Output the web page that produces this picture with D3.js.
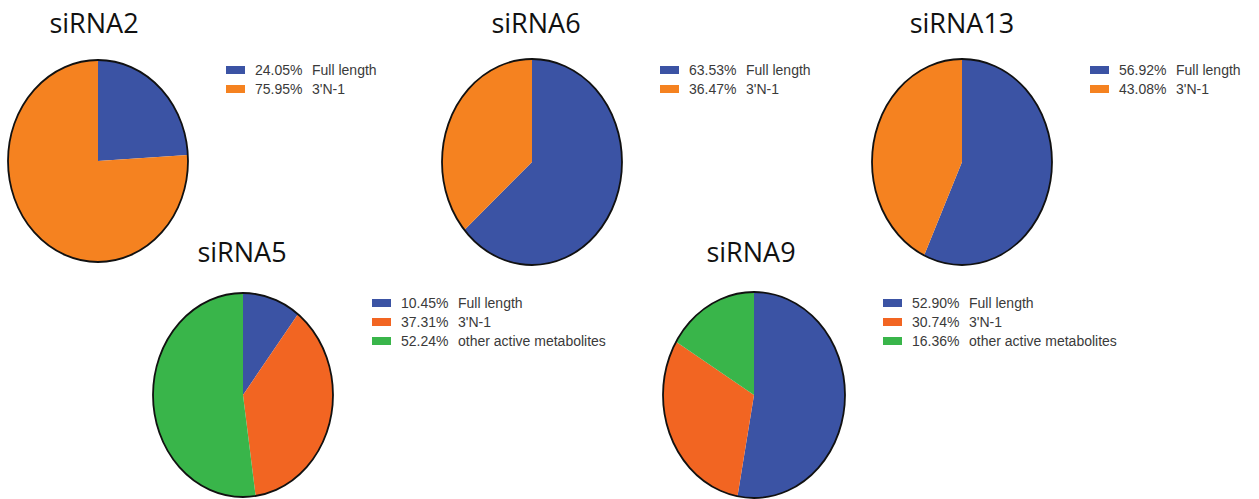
<!DOCTYPE html>
<html>
<head>
<meta charset="utf-8">
<script src="https://cdn.jsdelivr.net/npm/d3@7"></script>
<style>
  html, body { margin: 0; padding: 0; background: #fff; }
  svg { display: block; }
</style>
</head>
<body>
<svg id="chart" width="1259" height="499"></svg>
<script>
// ---- data ----
const titles = ["siRNA2", "siRNA6", "siRNA13", "siRNA5", "siRNA9"];
const categories2 = ["Full length", "3'N-1"];
const categories3 = ["Full length", "3'N-1", "other active metabolites"];
const siRNA2 = [24.05, 75.95];
const siRNA6 = [63.53, 36.47];
const siRNA13 = [56.92, 43.08];
const siRNA5 = [10.45, 37.31, 52.24];
const siRNA9 = [52.90, 30.74, 16.36];

// ---- layout / style (not data) ----
const colors2 = ["#3b53a4", "#f58220"];
const colors3 = ["#3b53a4", "#f26522", "#39b54a"];
const panels = [
  { title: titles[0], values: siRNA2, cats: categories2, colors: colors2,
    cx: 98, cy: 161, rx: 90, ry: 101, tx: 94, ty: 33, lx: 226, ly: 70 },
  { title: titles[1], values: siRNA6, cats: categories2, colors: colors2,
    cx: 532, cy: 162, rx: 90, ry: 103, tx: 536, ty: 33, lx: 660, ly: 70 },
  { title: titles[2], values: siRNA13, cats: categories2, colors: colors2,
    cx: 962, cy: 162, rx: 90, ry: 103, tx: 962, ty: 33, lx: 1090, ly: 70 },
  { title: titles[3], values: siRNA5, cats: categories3, colors: colors3,
    cx: 243, cy: 395, rx: 90, ry: 102, tx: 242, ty: 262, lx: 372, ly: 303 },
  { title: titles[4], values: siRNA9, cats: categories3, colors: colors3,
    cx: 754, cy: 395, rx: 91, ry: 103, tx: 751, ty: 262, lx: 883, ly: 303 }
];

const svg = d3.select("#chart");
const R = 100;
const pie = d3.pie().sort(null).value(d => d);
const arc = d3.arc().innerRadius(0).outerRadius(R);

panels.forEach(p => {
  const g = svg.append("g");

  // title
  g.append("text")
    .attr("x", p.tx).attr("y", p.ty)
    .attr("text-anchor", "middle")
    .attr("font-family", "'Open Sans', sans-serif")
    .attr("font-size", 27)
    .attr("fill", "#111")
    .text(p.title);

  // pie (elliptical)
  const color = d3.scaleOrdinal().domain(p.cats).range(p.colors);
  const pg = g.append("g")
    .attr("transform", `translate(${p.cx},${p.cy}) scale(${p.rx / R},${p.ry / R})`);
  pg.selectAll("path.slice")
    .data(pie(p.values))
    .join("path")
    .attr("class", "slice")
    .attr("d", arc)
    .attr("fill", (d, i) => color(p.cats[i]))
    .attr("stroke", "none");
  pg.append("circle")
    .attr("r", R)
    .attr("fill", "none")
    .attr("stroke", "#111")
    .attr("stroke-width", 1.8)
    .attr("vector-effect", "non-scaling-stroke");

  // legend
  const y = d3.scaleBand().domain(p.cats).range([p.ly - 9.5, p.ly - 9.5 + 19 * p.cats.length]);
  const lg = g.append("g");
  const rows = lg.selectAll("g.row")
    .data(p.cats)
    .join("g")
    .attr("class", "row")
    .attr("transform", c => `translate(${p.lx},${y(c) + y.bandwidth() / 2})`);
  rows.append("rect")
    .attr("x", 0).attr("y", -4)
    .attr("width", 19).attr("height", 8)
    .attr("fill", c => color(c));
  rows.append("text")
    .attr("x", 29).attr("y", 5)
    .attr("font-family", "'Liberation Sans', Arial, sans-serif")
    .attr("font-size", 14)
    .attr("fill", "#3a3a3a")
    .text((c, i) => p.values[i].toFixed(2) + "%");
  rows.append("text")
    .attr("x", 86).attr("y", 5)
    .attr("font-family", "'Liberation Sans', Arial, sans-serif")
    .attr("font-size", 14)
    .attr("fill", "#3a3a3a")
    .text(c => c);
});
</script>
</body>
</html>
